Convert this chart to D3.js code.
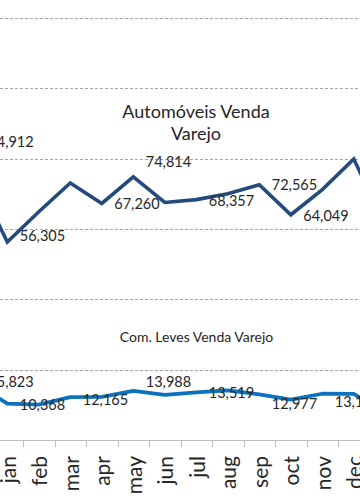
<!DOCTYPE html>
<html>
<head>
<meta charset="utf-8">
<script src="https://cdn.jsdelivr.net/npm/d3@7"></script>
<style>
  html, body { margin: 0; padding: 0; background: #fff; }
  svg { display: block; font-family: Lato, "Open Sans", sans-serif; }
</style>
</head>
<body>
<div id="chart"></div>
<script>
// ---- data ----
const categories = ["dez0", "jan", "feb", "mar", "apr", "may", "jun", "jul", "aug", "sep", "oct", "nov", "dec", "jan1"];
const visibleMonths = ["jan", "feb", "mar", "apr", "may", "jun", "jul", "aug", "sep", "oct", "nov", "dec"];
const automoveis = [74912, 56305, 64900, 73100, 67260, 74814, 67550, 68357, 70000, 72565, 64049, 71200, 79900, 61000];
const comLeves   = [15823, 10368, 10050, 12165, 12250, 13988, 12850, 13519, 14100, 12977, 11500, 13150, 13100, 7500];
const autoLabelShown  = [true, true, false, false, true, true, false, true, false, true, true, false, false, false];
const levesLabelShown = [true, true, false, true, false, true, false, true, false, true, false, true, false, false];
const yTicks = [0, 20000, 40000, 60000, 80000, 100000, 120000];
const seriesTitles = { auto: ["Automóveis Venda", "Varejo"], leves: ["Com. Leves Venda Varejo"] };

// ---- layout / style ----
const W = 360, H = 504;
const step = 31.5, janCenter = 7.3;
const autoLabelDy  = [-34.5, -6, 0, 0, 0, -15, 0, 1, 0, 0, 1, 0, 0, 0];
const levesLabelDy = [-2, 1, 0, 2.5, 0, -9, 0, 0, 0, 10, 0, 8, 0, 0];

const svg = d3.select("#chart").append("svg").attr("width", W).attr("height", H);

const x = d3.scaleBand()
  .domain(categories)
  .range([janCenter - 1.5 * step, janCenter + (categories.length - 1.5) * step])
  .paddingInner(0).paddingOuter(0);
const cx = d => x(d) + x.bandwidth() / 2;

const y = d3.scaleLinear().domain([0, 120000]).range([440, 18]);

// gridlines
svg.append("g").selectAll("line")
  .data(yTicks.filter(t => t > 0))
  .join("line")
  .attr("x1", 0).attr("x2", W)
  .attr("y1", d => Math.round(y(d)) + 0.5).attr("y2", d => Math.round(y(d)) + 0.5)
  .attr("stroke", "#a6a6a6").attr("stroke-width", 1)
  .attr("stroke-dasharray", "3,2");

// x axis
const xAxis = d3.axisBottom(x).tickSize(0).tickFormat("");
const gx = svg.append("g").attr("transform", `translate(0,${Math.round(y(0)) + 0.5})`).call(xAxis);
gx.select(".domain").attr("stroke", "#bfbfbf").attr("d", `M0,0H${W}`);
// boundary ticks between categories
svg.append("g").selectAll("line")
  .data(categories)
  .join("line")
  .attr("x1", d => Math.round(x(d)) + 0.5).attr("x2", d => Math.round(x(d)) + 0.5)
  .attr("y1", y(0)).attr("y2", y(0) + 7)
  .attr("stroke", "#bfbfbf").attr("stroke-width", 1);

// month labels
svg.append("g").selectAll("text")
  .data(visibleMonths)
  .join("text")
  .attr("transform", d => `translate(${cx(d) + 8.5},456) rotate(-90)`)
  .attr("text-anchor", "end")
  .attr("font-size", 21)
  .attr("fill", "#262626")
  .text(d => d);

// lines
const line = d3.line().x((d, i) => cx(categories[i])).y(d => y(d)).curve(d3.curveLinear);

svg.append("path").datum(comLeves)
  .attr("d", line).attr("fill", "none")
  .attr("stroke", "#0b72c0").attr("stroke-width", 3.8).attr("stroke-linejoin", "round").attr("stroke-linecap", "round");

svg.append("path").datum(automoveis)
  .attr("d", line).attr("fill", "none")
  .attr("stroke", "#254a7c").attr("stroke-width", 3.6).attr("stroke-linejoin", "miter").attr("stroke-linecap", "round");

// data labels
const fmt = d3.format(",");
function labels(values, shown, dys) {
  svg.append("g").selectAll("text")
    .data(values.map((v, i) => ({ v, i })).filter(d => shown[d.i]))
    .join("text")
    .attr("x", d => cx(categories[d.i]) + 12.5)
    .attr("y", d => y(d.v) + dys[d.i])
    .attr("dy", "0.35em")
    .attr("font-size", 14.5)
    .attr("fill", "#262626")
    .text(d => fmt(d.v));
}
labels(automoveis, autoLabelShown, autoLabelDy);
labels(comLeves, levesLabelShown, levesLabelDy);

// series titles
svg.append("text")
  .attr("x", 196).attr("y", 118)
  .attr("text-anchor", "middle").attr("font-size", 18).attr("fill", "#262626")
  .selectAll("tspan").data(seriesTitles.auto).join("tspan")
  .attr("x", 196).attr("dy", (d, i) => i === 0 ? 0 : 21.5)
  .text(d => d);

svg.append("text")
  .attr("x", 196.5).attr("y", 342)
  .attr("text-anchor", "middle").attr("font-size", 14).attr("fill", "#262626")
  .text(seriesTitles.leves[0]);
</script>
</body>
</html>
